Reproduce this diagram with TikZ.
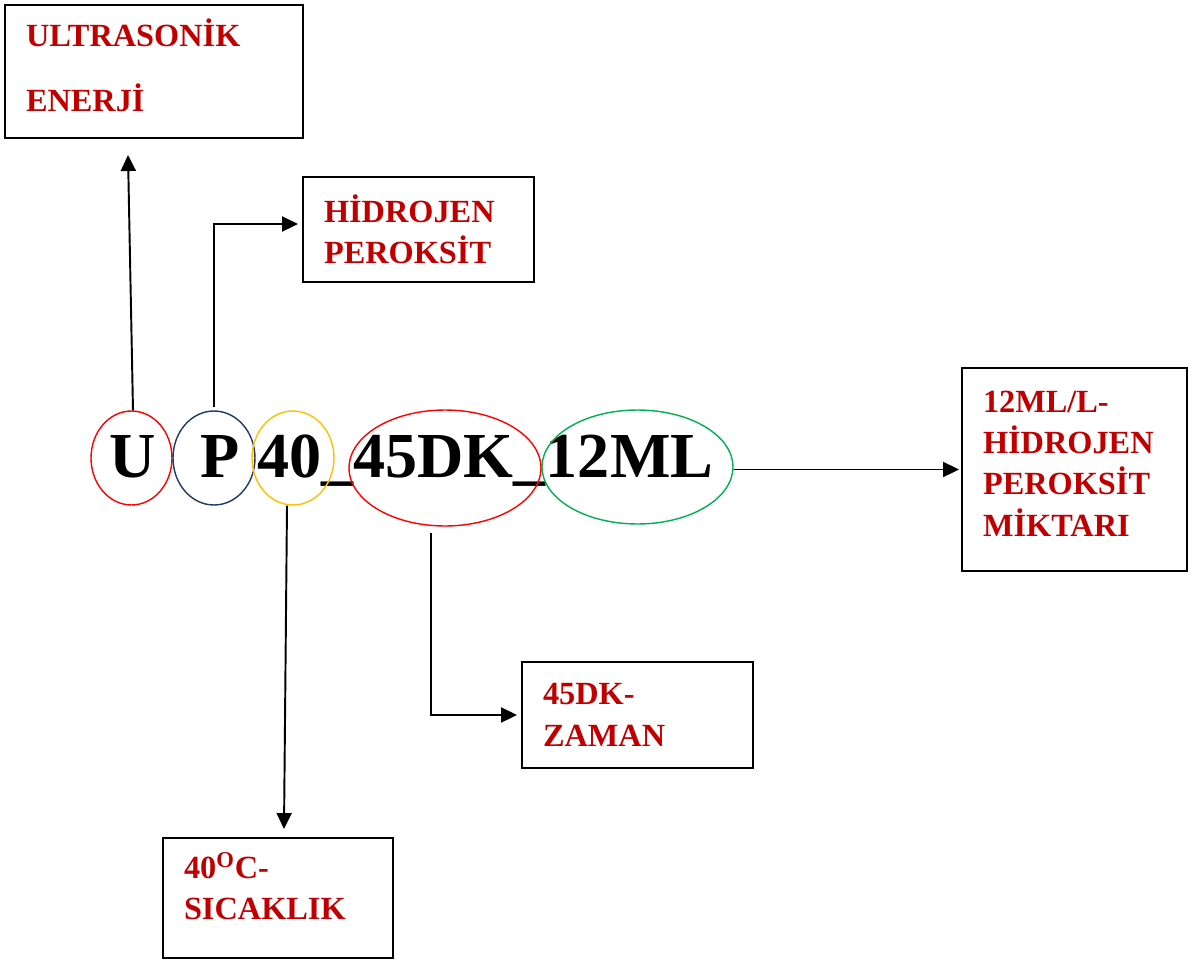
\documentclass[tikz,border=0pt]{standalone}
\usepackage{fontspec}
\setmainfont{Liberation Serif}
\usepackage{xcolor}
\usepackage{tikz}
\usetikzlibrary{positioning,arrows.meta,shapes.geometric,calc}
\definecolor{LabelRed}{HTML}{C00000}
\definecolor{RingRed}{HTML}{FF0000}
\definecolor{RingNavy}{HTML}{1F3864}
\definecolor{RingGold}{HTML}{FFC000}
\definecolor{RingGreen}{HTML}{00B050}

\begin{document}
\begin{tikzpicture}[
  x=0.02cm, y=-0.02cm,
  % --- label boxes ---
  lbox/.style={draw=black, line width=1.1pt, rectangle, inner xsep=0.42cm, inner ysep=0pt,
    align=left, text=LabelRed, font=\fontsize{18.4}{23.5}\selectfont\bfseries},
  % --- code letters and rings ---
  code/.style={inner sep=0pt, anchor=base west, font=\fontsize{36.5}{40}\selectfont\bfseries},
  ring/.style={ellipse, draw, line width=0.8pt, inner sep=0pt},
  % --- arrows ---
  arr/.style={-{Triangle[length=3.2mm,width=3mm]}, line width=1.1pt},
]
\useasboundingbox (0,0) rectangle (1188,960);

% =================== CODE ===================
\node[code] (cU) at (109,477) {U};
\node[code] (cP) at (200,477) {P};
\node[code] (cRest) at (257,477) {40\_45DK\_12ML};

\node[ring, draw=RingRed,   minimum width=1.62cm, minimum height=1.88cm] (uel)  at (131.5,458) {};
\node[ring, draw=RingNavy,  minimum width=1.64cm, minimum height=1.88cm] (pel)  at (214,458) {};
\node[ring, draw=RingGold,  minimum width=1.64cm, minimum height=1.88cm] (fel)  at (293,458) {};
\node[ring, draw=RingRed,   minimum width=3.84cm, minimum height=2.32cm] (dkel) at (445,468) {};
\node[ring, draw=RingGreen, minimum width=3.82cm, minimum height=2.28cm] (mlel) at (637.5,467) {};

% =================== LABELS ===================
\node[lbox, minimum width=5.96cm, minimum height=2.66cm, text width=5.12cm,
  font=\fontsize{18.4}{37}\selectfont\bfseries] (ultra) at (154,71.5)
  {ULTRASONİK\\ENERJİ\par\vspace{0.24cm}};
\node[lbox, minimum width=4.62cm, minimum height=2.10cm, text width=3.78cm] (hid) at (418.5,229.5)
  {HİDROJEN\\PEROKSİT};
\node[lbox, minimum width=4.50cm, minimum height=4.06cm, text width=3.66cm] (ml) at (1074.5,469.5)
  {12ML/L-\\HİDROJEN\\PEROKSİT\\MİKTARI\par\vspace{0.24cm}};
\node[lbox, minimum width=4.62cm, minimum height=2.12cm, text width=3.78cm] (dk) at (637.5,715)
  {45DK-\\ZAMAN};
\node[lbox, minimum width=4.60cm, minimum height=2.40cm, text width=3.76cm] (sic) at (278,898)
  {40\textsuperscript{O}C-\\SICAKLIK\par\vspace{0.48cm}};

% =================== ARROWS ===================
\coordinate (utip) at (128,155);
\draw[arr] ([xshift=0.03cm]uel.north) -- (utip);
\draw[arr] ([yshift=0.06cm]pel.north) |- ([xshift=-0.08cm,yshift=0.11cm]hid.west);
\draw[arr] ([xshift=-0.12cm]fel.south) -- ([xshift=0.12cm,yshift=0.16cm]sic.north);
\draw[arr] ([xshift=-0.28cm,yshift=-0.12cm]dkel.south) |- ([xshift=-0.08cm]dk.west);
\draw[arr] (mlel.east |- ml.west) -- ([xshift=-0.04cm]ml.west);

\end{tikzpicture}
\end{document}
